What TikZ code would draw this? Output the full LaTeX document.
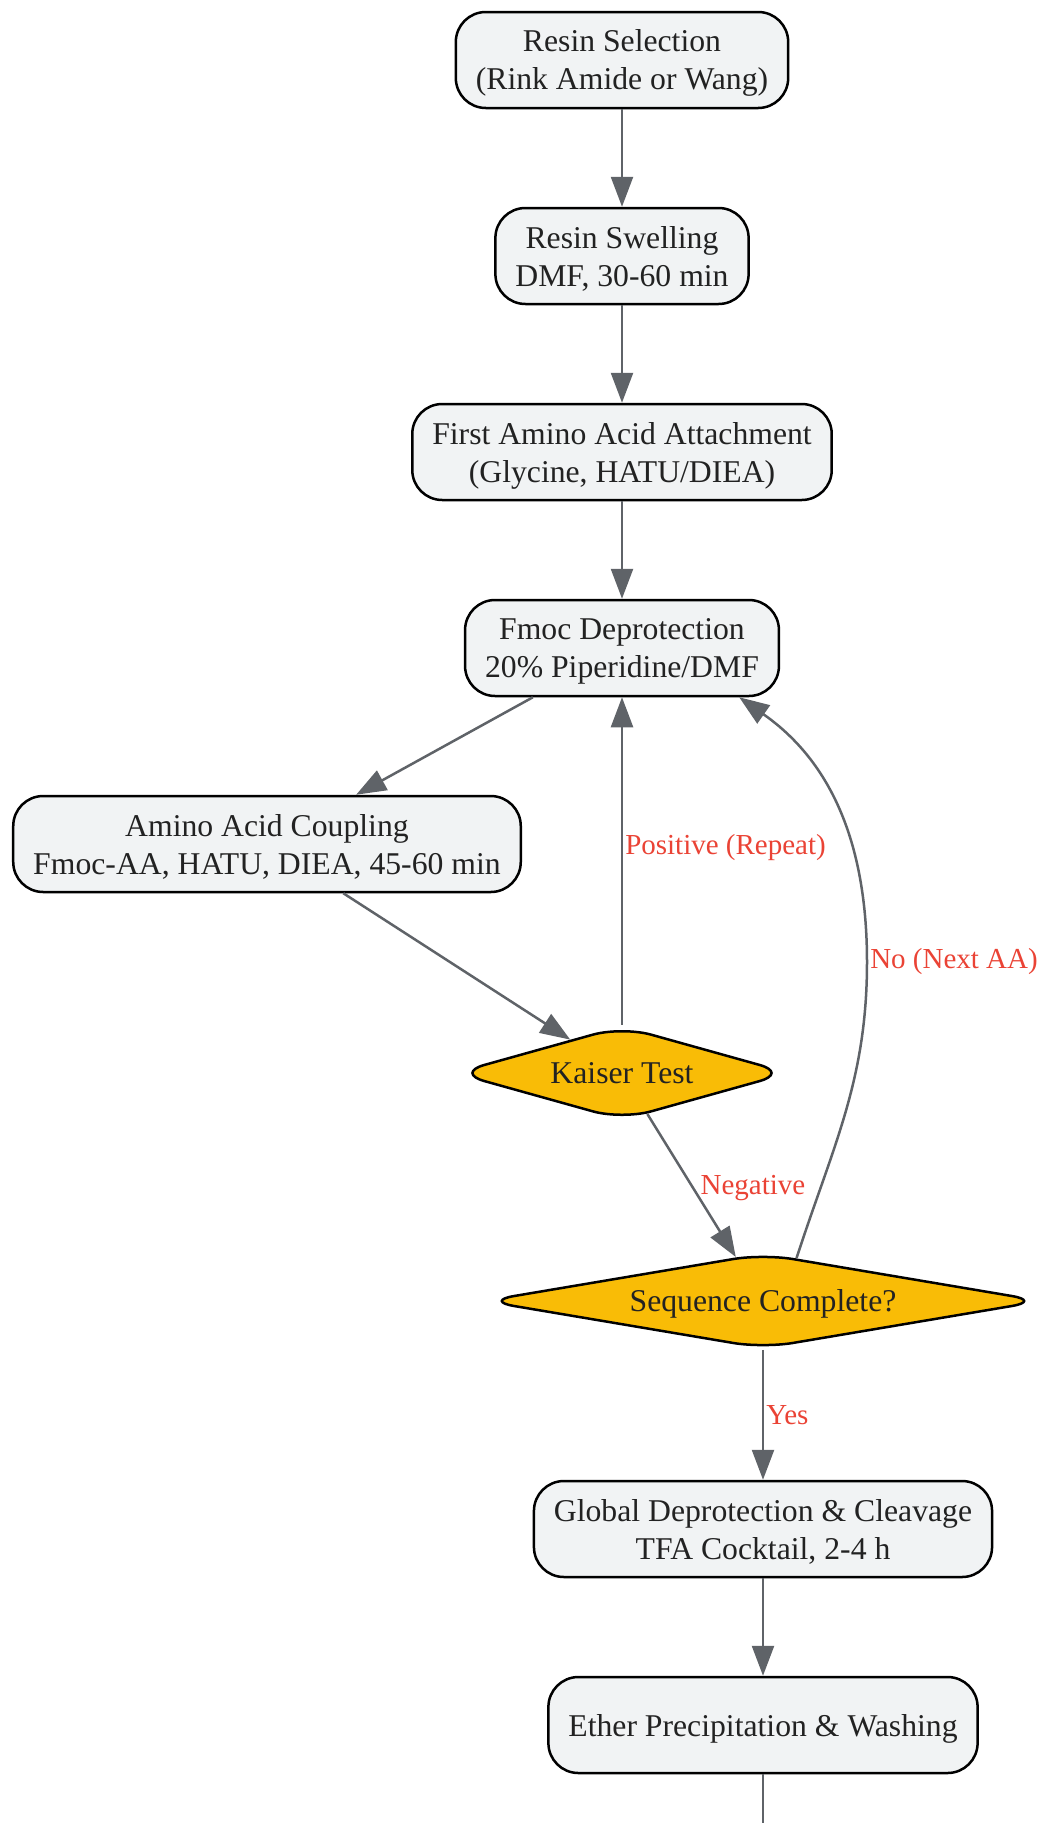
\documentclass[tikz,border=0pt]{standalone}
\usepackage{fontspec}
\setmainfont{Liberation Serif}
\usepackage{tikz}
\usetikzlibrary{shapes.geometric,arrows.meta}
\definecolor{boxfill}{HTML}{F1F3F4}
\definecolor{amber}{HTML}{F9BC06}
\definecolor{edgegray}{HTML}{5F6368}
\definecolor{lblred}{HTML}{EA4335}
\definecolor{txt}{HTML}{222222}
\begin{document}
\begin{tikzpicture}[x=1pt,y=1pt,
box/.style={draw=black,line width=2.5pt,fill=boxfill,rounded corners=30pt,minimum height=96pt,inner xsep=20pt,align=center,text=txt,font=\fontsize{31.7}{38}\selectfont,text depth=-4pt},
decision/.style={diamond,draw=black,line width=2.5pt,fill=amber,rounded corners=30pt,inner sep=0pt,text=txt,font=\fontsize{31.7}{38}\selectfont,
  execute at begin node=\rule[-7pt]{0pt}{35pt}},
line/.style={draw=edgegray,line width=2.5pt},
flow/.style={line,-{Triangle[length=30pt,width=22pt]}},
lbl/.style={text=lblred,font=\fontsize{29}{34}\selectfont,inner sep=2pt}]
\useasboundingbox (0,0) rectangle (1038,-1823);
\node (select) at (622,-60) [box] {Resin Selection\\(Rink Amide or Wang)};
\node (swell) at (622,-256) [box] {Resin Swelling\\DMF, 30-60 min};
\node (first) at (622,-452) [box] {First Amino Acid Attachment\\(Glycine, HATU/DIEA)};
\node (fmoc) at (622,-648) [box] {Fmoc Deprotection\\20\% Piperidine/DMF};
\node (couple) at (267,-844) [box] {Amino Acid Coupling\\Fmoc-AA, HATU, DIEA, 45-60 min};
\node (kaiser) at (622,-1073) [decision,aspect=3.6,minimum width=334pt,minimum height=94pt] {Kaiser Test};
\node (seqdone) at (763,-1301) [decision,aspect=6,minimum width=558pt,minimum height=95pt] {Sequence Complete?};
\node (cleave) at (763,-1529) [box] {Global Deprotection \& Cleavage\\TFA Cocktail, 2-4 h};
\node (ether) at (763,-1725) [box] {Ether Precipitation \& Washing};
\coordinate (bend) at (867,-962);
\coordinate (exit) at (763,-1823);
\draw[flow] (select) -- (swell);
\draw[flow] (swell) -- (first);
\draw[flow] (first) -- (fmoc);
\draw[flow] (fmoc) -- (couple);
\draw[flow] (couple) -- (kaiser);
\draw[flow] (kaiser) -- node[lbl,pos=0.54,right]{Positive (Repeat)} (fmoc);
\draw[flow] (kaiser) -- node[lbl,pos=0.52,right=4pt]{Negative} (seqdone);
\draw[flow] (seqdone.52) to[out=72,in=-90] (bend) node[lbl,right]{No (Next AA)} to[out=90,in=-35] ([xshift=-41pt]fmoc.south east);
\draw[flow] (seqdone) -- node[lbl,pos=0.5,right]{Yes} (cleave);
\draw[flow] (cleave) -- (ether);
\draw[line] (ether) -- (exit);
\end{tikzpicture}
\end{document}
